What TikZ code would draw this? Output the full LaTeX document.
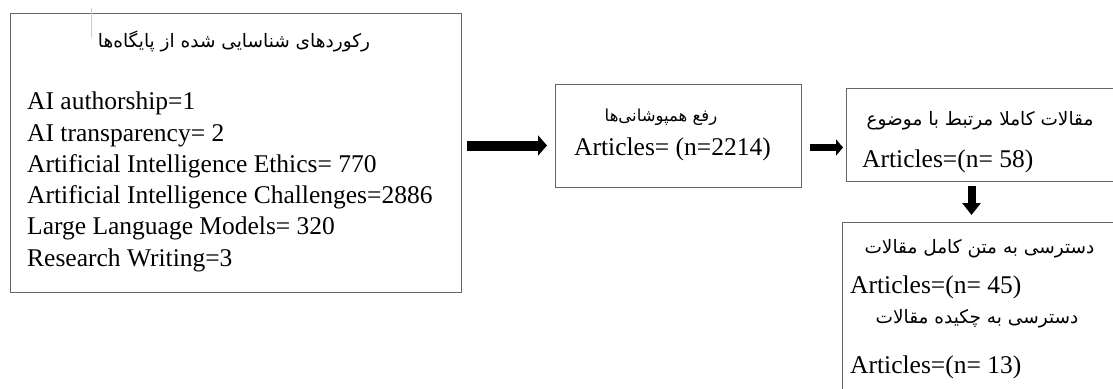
\documentclass[tikz,border=0pt]{standalone}
\usepackage{fontspec}
\setmainfont{Liberation Serif}
\newfontfamily\fa[Script=Arabic]{DejaVu Sans}
\TeXXeTstate=1
\usetikzlibrary{arrows.meta}
\tikzset{
  box/.style={draw=black!60, line width=1pt, rectangle, inner sep=0pt, anchor=north west},
  lat/.style={inner sep=0pt, anchor=base west, font=\fontsize{25.5}{31}\selectfont},
  per/.style={inner sep=0pt, anchor=base, font=\fontsize{18.5}{22}\selectfont\fa},
  persmall/.style={per, font=\fontsize{16.5}{20}\selectfont\fa},
  bigarrow/.style={line width=10pt, -{Triangle[width=20pt,length=9pt]}},
  midarrow/.style={line width=7pt, -{Triangle[width=16pt,length=7pt]}},
  downarrow/.style={line width=8pt, -{Triangle[width=18pt,length=12pt]}}
}
\begin{document}
\begin{tikzpicture}[x=1pt,y=-1pt]
\useasboundingbox (0,0) rectangle (1113,388);
\fill[white] (0,0) rectangle (1113,388);
\clip (0,0) rectangle (1113,388);
% boxes
\node[box, minimum width=451pt, minimum height=279.5pt] (b1) at (10,12.5) {};
\node[box, minimum width=246pt, minimum height=103pt] (b2) at (555,84) {};
\node[box, minimum width=279.5pt, minimum height=93pt] (b3) at (845.5,88) {};
\node[box, minimum width=283pt, minimum height=180pt] (b4) at (842,222) {};
% stray mark
\draw[black!20, line width=0.7pt] (91,8) -- (91,38);
% box 1 texts
\node[per] (t1) at (234,47) {\beginR رکوردهای شناسایی شده از پایگاه‌ها\endR};
\node[lat] (l1) at (27,109) {AI authorship=1};
\node[lat] (l2) at (27,141) {AI transparency= 2};
\node[lat] (l3) at (27,172) {Artificial Intelligence Ethics= 770};
\node[lat] (l4) at (27,203) {Artificial Intelligence Challenges=2886};
\node[lat] (l5) at (27,234) {Large Language Models= 320};
\node[lat] (l6) at (27,266) {Research Writing=3};
% box 2 texts
\node[persmall] (t2) at (661,121) {\beginR رفع همپوشانی‌ها\endR};
\node[lat] (l7) at (574,155) {Articles= (n=2214)};
% box 3 texts
\node[per] (t3) at (980,125) {\beginR مقالات کاملا مرتبط با موضوع\endR};
\node[lat] (l8) at (862,167) {Articles=(n= 58)};
% box 4 texts
\node[per] (t4) at (979.5,253) {\beginR دسترسی به متن کامل مقالات\endR};
\node[lat] (l9) at (850,293) {Articles=(n= 45)};
\node[per] (t5) at (977,323) {\beginR دسترسی به چکیده مقالات\endR};
\node[lat] (l10) at (850,373) {Articles=(n= 13)};
% connectors
\draw[bigarrow] ([xshift=5pt,yshift=7.25pt]b1.east) -- ([xshift=-8pt,yshift=-9.5pt]b2.west);
\draw[midarrow] ([xshift=8pt,yshift=-11.5pt]b2.east) -- ([xshift=-2.5pt,yshift=-12.5pt]b3.west);
\draw[downarrow] ([xshift=-14.25pt,yshift=-4pt]b3.south) -- ([xshift=-12.5pt,yshift=7pt]b4.north);
\end{tikzpicture}
\end{document}
